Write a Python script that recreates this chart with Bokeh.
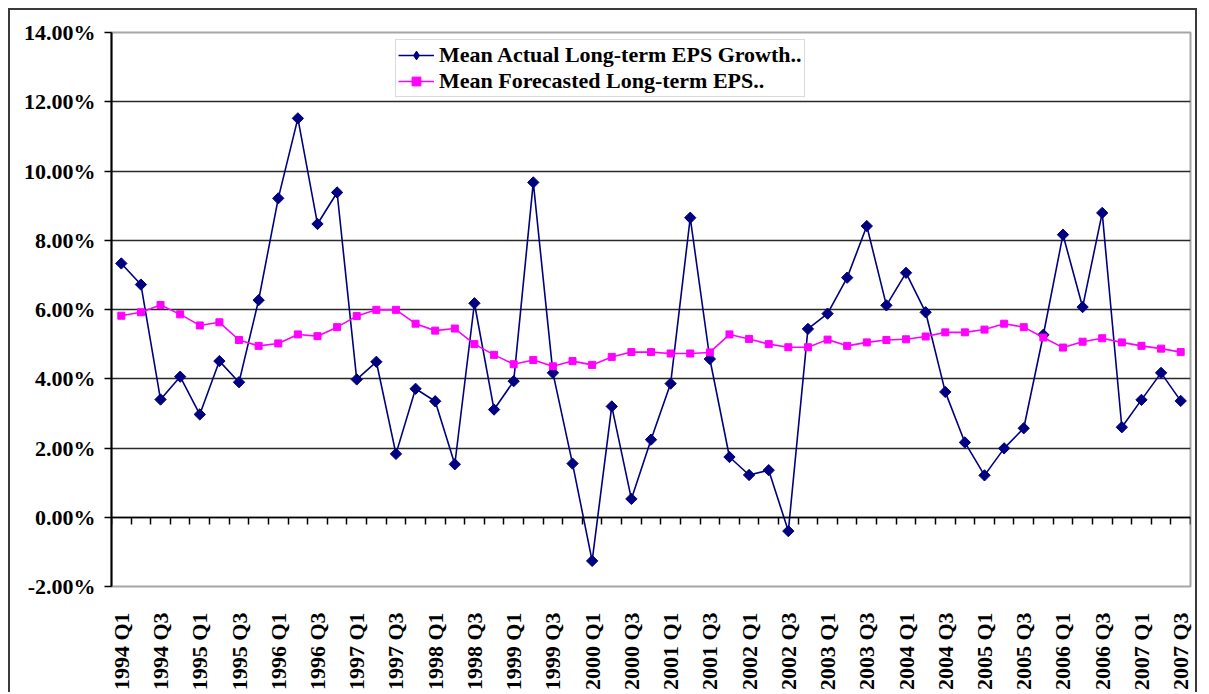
import numpy as np
from bokeh.plotting import figure
from bokeh.models import (FixedTicker, LinearAxis, Range1d, PrintfTickFormatter,
                          Legend, LegendItem)
from bokeh.embed import file_html
from bokeh.resources import INLINE

# ---------------- data ----------------
years = list(range(1994, 2008))
quarters = [f"{y} Q{q}" for y in years for q in (1, 2, 3, 4)][:55]

actual = [7.33, 6.72, 3.40, 4.06, 2.97, 4.51, 3.90, 6.27, 9.21, 11.52,
          8.47, 9.38, 3.98, 4.49, 1.83, 3.71, 3.35, 1.53, 6.18, 3.11,
          3.93, 9.67, 4.17, 1.55, -1.26, 3.20, 0.53, 2.24, 3.86, 8.65,
          4.57, 1.74, 1.22, 1.36, -0.40, 5.44, 5.88, 6.92, 8.41, 6.12,
          7.06, 5.92, 3.62, 2.16, 1.21, 1.99, 2.57, 5.27, 8.16, 6.07,
          8.79, 2.60, 3.39, 4.17, 3.36]

forecast = [5.82, 5.92, 6.13, 5.86, 5.54, 5.63, 5.12, 4.95, 5.02, 5.28,
            5.23, 5.49, 5.81, 5.99, 5.99, 5.59, 5.39, 5.45, 5.00, 4.69,
            4.42, 4.54, 4.36, 4.51, 4.40, 4.63, 4.77, 4.77, 4.73, 4.73,
            4.76, 5.28, 5.15, 5.00, 4.91, 4.91, 5.13, 4.95, 5.05, 5.12,
            5.14, 5.22, 5.34, 5.34, 5.42, 5.59, 5.49, 5.19, 4.90, 5.07,
            5.17, 5.05, 4.95, 4.87, 4.77]

y_ticks = [-2, 0, 2, 4, 6, 8, 10, 12, 14]
label_every = 2

x = list(range(len(quarters)))
FONT = "'Liberation Serif', 'Times New Roman', serif"

p = figure(width=1189, height=684,
           x_range=Range1d(-0.5, len(quarters) - 0.5),
           y_range=Range1d(y_ticks[0], y_ticks[-1]),
           output_backend="svg", toolbar_location=None,
           min_border_left=101, min_border_right=9,
           min_border_top=22, min_border_bottom=108,
           background_fill_color="white", border_fill_color="white")
p.styles = {"border-top": "2px solid #3a3a3a",
            "border-left": "2px solid #3a3a3a",
            "border-right": "2px solid #3a3a3a",
            "margin-left": "8px", "margin-top": "8px"}

p.outline_line_color = "#a6a6a6"
p.outline_line_width = 2

# y axis
ya = p.yaxis[0]
ya.ticker = FixedTicker(ticks=y_ticks)
ya.formatter = PrintfTickFormatter(format="%.2f%%")
ya.axis_line_color = "black"
ya.axis_line_width = 2
ya.major_tick_line_color = "black"
ya.major_tick_line_width = 1.5
ya.major_tick_out = 7
ya.major_tick_in = 0
ya.minor_tick_line_color = None
ya.major_label_standoff = 9
ya.major_label_text_font = FONT
ya.major_label_text_font_style = "bold"
ya.major_label_text_font_size = "22px"
ya.major_label_text_color = "black"

p.ygrid.ticker = FixedTicker(ticks=y_ticks)
p.ygrid.grid_line_color = "#2a2a2a"
p.ygrid.grid_line_width = 1.6
p.xgrid.visible = False

# x axis labels (bottom)
xa = p.xaxis[0]
xa.ticker = FixedTicker(ticks=x[::label_every])
xa.major_label_overrides = {i: quarters[i] for i in x[::label_every]}
xa.major_label_orientation = np.pi / 2
xa.axis_line_color = None
xa.major_tick_line_color = None
xa.minor_tick_line_color = None
xa.major_label_standoff = 20
xa.major_label_text_font = FONT
xa.major_label_text_font_style = "bold"
xa.major_label_text_font_size = "22px"
xa.major_label_text_color = "black"

# category axis crossing at 0%
za = LinearAxis(fixed_location=0,
                ticker=FixedTicker(ticks=[i - 0.5 for i in range(len(quarters) + 1)]))
za.axis_line_color = "black"
za.axis_line_width = 1.6
za.major_tick_line_color = "black"
za.major_tick_line_width = 1.5
za.major_tick_out = 7
za.major_tick_in = 0
za.minor_tick_line_color = None
za.major_label_text_color = None
p.add_layout(za, "below")

# series
r1 = p.line(x, actual, line_color="#000080", line_width=1.6)
s1 = p.scatter(x, actual, marker="square", angle=np.pi / 4, size=8, color="#000080")
r2 = p.line(x, forecast, line_color="#FF00FF", line_width=1.6)
s2 = p.scatter(x, forecast, marker="square", size=7, color="#FF00FF")

# hidden twin used only for the legend swatch (diamond marker)
k1 = p.scatter(x, actual, marker="diamond", size=12, color="#000080", visible=False)

legend = Legend(items=[
    LegendItem(label="Mean Actual Long-term EPS Growth..", renderers=[r1, k1]),
    LegendItem(label="Mean Forecasted Long-term EPS..", renderers=[r2, s2]),
], location=(284, 489))
legend.click_policy = "none"
legend.label_text_font = FONT
legend.label_text_font_style = "bold"
legend.label_text_font_size = "22px"
legend.label_text_color = "black"
legend.glyph_width = 36
legend.glyph_height = 22
legend.label_height = 22
legend.label_standoff = 5
legend.spacing = 0
legend.padding = 2
legend.border_line_color = "#b5b5b5"
legend.border_line_width = 1.5
legend.background_fill_color = "white"
legend.background_fill_alpha = 1
p.add_layout(legend)

open("out.html", "w").write(file_html(p, INLINE))
